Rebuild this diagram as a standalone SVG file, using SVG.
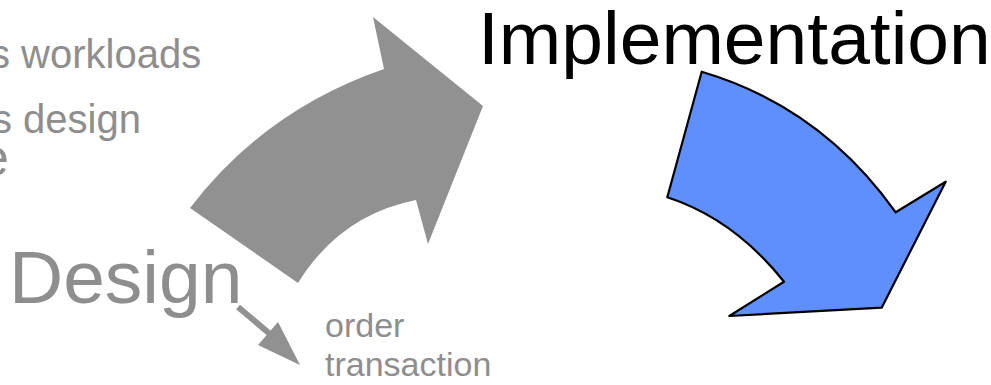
<svg xmlns="http://www.w3.org/2000/svg" width="991" height="385" viewBox="0 0 991 385">
<style>
.t{font-family:"Liberation Sans",Arial,sans-serif;}
.g{fill:#8e8e8e;}
.k{fill:#000;}
</style>
<defs>
<marker id="ah" viewBox="0 0 10 10" refX="9" refY="5" markerWidth="6" markerHeight="6" orient="auto" markerUnits="userSpaceOnUse"></marker>
</defs>
<rect width="991" height="385" fill="#fff"/>
<g id="text-workloads"><text class="t g" x="-10" y="68" font-size="40">s workloads</text></g>
<g id="text-design-small"><text class="t g" x="-8" y="133" font-size="40">s design</text>
<text class="t g" x="-20" y="175" font-size="52">e</text></g>
<g id="gray-arrow"><path d="M190,208 Q265,110 384,69 L373,17 L483,106 L428,244 L416,200 Q340,215 298,283 Z" fill="#919191"/></g>
<g id="implementation"><text class="t k" x="478" y="64" font-size="75">Implementation</text></g>
<g id="blue-arrow"><path d="M701.7,71.7 Q821,107 895.7,212.3 L945.7,181.7 L881.7,307.7 L729.3,316 L784,281.7 Q734,219 667.3,197.3 Z" fill="#5f8ffd" stroke="#000" stroke-width="2.2" stroke-linejoin="round"/></g>
<g id="design"><text class="t g" x="9" y="303" font-size="75">Design</text></g>
<g id="connectors">
<line x1="238" y1="307" x2="270" y2="334" stroke="#919191" stroke-width="6"/>
<polygon points="258,345 278,322 300,365" fill="#919191"/>
</g>
<g id="order-transaction"><text class="t g" x="325" y="337" font-size="34">order</text>
<text class="t g" x="325" y="376" font-size="34">transaction</text></g>
</svg>
